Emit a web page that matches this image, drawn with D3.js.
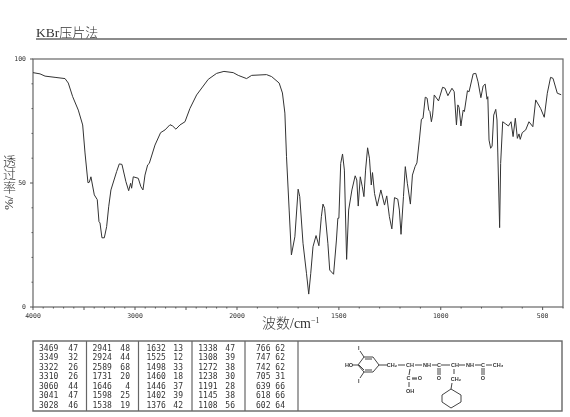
<!DOCTYPE html>
<html>
<head>
<meta charset="utf-8">
<script src="https://cdn.jsdelivr.net/npm/d3@7"></script>
<style>
  html, body { margin: 0; padding: 0; background: #fff; }
  #chart { position: relative; width: 570px; height: 417px; }
  svg { display: block; opacity: 0.999; will-change: opacity; }
  text { fill: #333; }
  .cn { font-family: "Noto Sans CJK SC", sans-serif; font-weight: 300; }
  .mono { font-family: "DejaVu Sans Mono", monospace; }
  #ytitle { position: absolute; left: 2px; top: 155px; writing-mode: vertical-rl; font-size: 13px; line-height: 14px; color: #333; opacity: 0.999; }
</style>
</head>
<body>
<div id="chart"></div>
<script>
// wavenumber (cm-1) and % transmittance
const wavenumbers = [4000,3931,3882,3784,3686,3654,3611,3556,3513,3490,3461,3448,3432,3399,3370,3353,3343,3324,3301,3278,3258,3236,3180,3154,3128,3089,3062,3043,3033,3017,2968,2942,2922,2902,2876,2860,2804,2749,2706,2657,2631,2599,2559,2510,2461,2396,2282,2200,2128,2037,
  1994,1953,1928,1855,1830,1793,1777,1765,1757,1744,1733,1716,1700,1692,1676,1659,1648,1638,1627,1612,1598,1586,1578,1570,1554,1545,1526,1512,1505,1500,1491,1482,1473,1462,1452,1436,1420,1412,1405,1395,1385,1377,1369,1359,1350,1341,1335,1325,1312,1294,1276,1265,1252,1240,1227,1211,1203,1195,1183,1174,1164,1149,1139,1126,1117,1105,1095,1087,1076,1067,1059,1053,1046,1040,1032,1011,991,979,965,945,934,923,916,910,901,890,884,869,861,841,828,817,803,792,782,773,769,763,755,748,740,730,724,720,711,706,696,681,668,655,645,634,624,616,610,600,583,567,548,534,510,492,477,461,449,428,409];
const transmittance = [94.5,94.0,93.1,92.6,92.1,90.3,84.8,79.4,73.4,62.1,50.1,50.3,52.5,45.2,43.3,34.4,33.9,27.9,27.9,32.4,40.4,47.2,54.6,57.7,57.5,50.5,46.9,49.9,47.9,52.5,51.9,48.5,47.2,53.2,57.3,57.9,65.3,70.3,71.4,73.5,73.0,71.7,73.4,74.7,80.1,85.5,91.8,94.2,95.0,94.5,
  93.4,92.1,93.4,93.7,92.9,90.3,86.3,78.2,60.6,39.1,21.0,28.3,47.5,44.5,25.7,13.6,5.2,13.6,24.3,28.8,24.7,36.4,41.5,39.8,25.7,14.9,13.2,27.0,35.8,35.8,57.9,61.7,55.2,19.2,39.1,47.2,52.9,51.2,40.7,52.5,48.5,44.5,55.2,64.2,60.0,49.2,54.2,45.8,40.7,47.2,41.1,44.8,36.4,31.5,44.1,43.5,39.1,29.3,44.5,56.6,49.9,41.5,53.2,56.6,58.1,67.3,75.7,76.1,84.6,84.2,79.4,78.8,74.7,77.4,85.5,83.1,88.6,88.2,85.2,88.2,86.8,73.4,81.5,80.5,73.0,79.4,78.8,87.2,86.8,94.0,94.2,90.8,84.4,89.1,89.9,83.8,84.8,67.3,64.0,64.9,77.4,79.7,75.4,62.1,32.0,57.9,74.7,73.8,73.0,74.7,68.7,76.1,68.0,69.8,67.6,70.3,71.4,74.7,72.7,83.5,80.1,76.5,86.2,92.6,92.2,86.2,85.6];

// tick values
const xMajor = [4000,3500,3000,2500,2000,1500,1000,500];
const xLabels = [4000,3000,2000,1500,1000,500];
const xMinor = [3900,3800,3700,3600,3400,3300,3200,3100,2900,2800,2700,2600,2400,2300,2200,2100,1900,1800,1700,1600,1400,1300,1200,1100,900,800,700,600,400];
const yTicks = [0,10,20,30,40,50,60,70,80,90,100];
const yLabels = [0,50,100];

// peak table, one pair of arrays per column
const peakWn = [
  [3469,3349,3322,3310,3060,3041,3028],
  [2941,2924,2589,1731,1646,1598,1538],
  [1632,1525,1498,1460,1446,1402,1376],
  [1338,1308,1272,1238,1191,1145,1108],
  [766,747,742,705,639,618,602]
];
const peakT = [
  [47,32,26,26,44,47,46],
  [48,44,68,20,4,25,19],
  [13,12,33,18,37,39,42],
  [47,39,38,30,28,38,56],
  [62,62,62,31,66,66,64]
];

const width = 570, height = 417;
const lineCol = '#666';

const svg = d3.select('#chart').append('svg')
  .attr('width', width)
  .attr('height', height);

// title
svg.append('text').attr('x', 36).attr('y', 37)
  .html('<tspan style="font-family:\'Liberation Serif\',serif;font-size:13.5px">KBr</tspan><tspan class="cn" style="font-size:13px">压片法</tspan>');
svg.append('line').attr('x1', 36).attr('x2', 567).attr('y1', 39).attr('y2', 39)
  .attr('stroke', lineCol).attr('stroke-width', 1.4);

// scales, axis is compressed above 2000
const x = d3.scaleLinear().domain([4000, 2000, 400]).range([33, 237, 563]);
const y = d3.scaleLinear().domain([0, 100]).range([307, 59]);

// frame
svg.append('rect')
  .attr('x', x(4000)).attr('y', y(100))
  .attr('width', x(400) - x(4000)).attr('height', y(0) - y(100))
  .attr('fill', 'none').attr('stroke', lineCol).attr('stroke-width', 1.2);

const xAxisG = svg.append('g');
xAxisG.selectAll('.minor').data(xMinor).enter().append('line')
  .attr('x1', d => x(d)).attr('x2', d => x(d))
  .attr('y1', y(0)).attr('y2', y(0) + 1.5)
  .attr('stroke', '#555');
xAxisG.selectAll('.major').data(xMajor).enter().append('line')
  .attr('x1', d => x(d)).attr('x2', d => x(d))
  .attr('y1', y(0)).attr('y2', y(0) + 3)
  .attr('stroke', '#555');
xAxisG.selectAll('text').data(xLabels).enter().append('text')
  .attr('class', 'mono')
  .attr('x', d => x(d)).attr('y', 318)
  .attr('text-anchor', 'middle')
  .style('font-size', '6.5px')
  .text(d => d);

const yAxisG = svg.append('g');
yAxisG.selectAll('line').data(yTicks).enter().append('line')
  .attr('x1', d => x(4000) - (yLabels.includes(d) ? 3 : 1.5)).attr('x2', x(4000))
  .attr('y1', d => y(d)).attr('y2', d => y(d))
  .attr('stroke', '#555');
yAxisG.selectAll('text').data(yLabels).enter().append('text')
  .attr('class', 'mono')
  .attr('x', 26).attr('y', d => y(d) + 2.3)
  .attr('text-anchor', 'end')
  .style('font-size', '6.5px')
  .text(d => d);

// axis titles, the upright part of the y title is a vertical html label
d3.select('#chart').append('div')
  .attr('id', 'ytitle')
  .attr('class', 'cn')
  .text('透过率');
svg.append('text')
  .attr('transform', 'translate(13,210) rotate(-90)')
  .style('font-family', "'Liberation Serif', serif")
  .style('font-size', '13px')
  .text('%/');

svg.append('text')
  .attr('x', 262).attr('y', 328)
  .html('<tspan class="cn" style="font-size:14px">波数</tspan><tspan style="font-family:\'Liberation Serif\',serif;font-size:14px">/cm</tspan><tspan style="font-family:\'Liberation Serif\',serif;font-size:8px" dy="-5">−1</tspan>');

// spectrum
const line = d3.line()
  .x((d, i) => x(wavenumbers[i]))
  .y((d, i) => y(transmittance[i]));

svg.append('path')
  .datum(wavenumbers)
  .attr('d', line)
  .attr('fill', 'none')
  .attr('stroke', '#333')
  .attr('stroke-width', 1)
  .attr('stroke-linejoin', 'round');

// peak table
const sepX = [33, 86.5, 138.5, 192, 245, 298, 562];
svg.append('rect')
  .attr('x', 33).attr('y', 341).attr('width', 529).attr('height', 70)
  .attr('fill', 'none').attr('stroke', lineCol).attr('stroke-width', 1.4);
svg.selectAll('.sep').data(sepX.slice(1, -1)).enter().append('line')
  .attr('x1', d => d).attr('x2', d => d).attr('y1', 341).attr('y2', 411)
  .attr('stroke', lineCol).attr('stroke-width', 1.2);

const rowY = d3.scalePoint().domain(d3.range(7)).range([350.7, 407.7]);
const wnX = [39, 92.5, 146.5, 198.3, 256];
const tX = [78, 130, 183, 235, 285];

peakWn.forEach((col, c) => {
  col.forEach((v, r) => {
    svg.append('text').attr('class', 'mono')
      .attr('x', wnX[c]).attr('y', rowY(r))
      .style('font-size', '8px').text(v);
    svg.append('text').attr('class', 'mono')
      .attr('x', tX[c]).attr('y', rowY(r))
      .attr('text-anchor', 'end')
      .style('font-size', '8px').text(peakT[c][r]);
  });
});

// structure drawing
const bonds = [
  [364,357,373,357],[373,357,379,365],[379,365,373,372],[373,372,364,372],[364,372,358,365],[358,365,364,357],
  [365,359,372,359],[365,370,372,370],[359,365,364,370],
  [360,351,364,357],[360,378,364,372],[352,365,358,365],
  [379,365,387,365],[398,365,405,365],[415,365,422,365],[432,365,437,365],[441,365,450,365],[459,365,465,365],[475,365,481,365],[486,365,492,365],
  [410,369,409,375],[412,378,417,378],[412,379,417,379],[409,382,409,387],
  [438,368,438,375],[440,368,440,375],
  [454,369,454,374],[482,368,482,375],[484,368,484,375],
  [452,383,451,389],
  [451,389,461,395],[461,395,461,402],[461,402,451,408],[451,408,442,402],[442,402,442,395],[442,395,451,389]
];
const atoms = [
  ['I',358.7,348],['I',358.7,381],['HO',349,365],['CH₂',392,365],['CH',410,365],['NH',427,365],['C',439,365],['CH',455,365],['NH',470,365],['C',483,365],['CH₃',498,365],
  ['C',408.5,378],['O',420,378],['OH',410,391],['O',439,378],['O',483,378],['CH₂',456,379]
];
svg.selectAll('.bond').data(bonds).enter().append('line')
  .attr('x1', d => d[0]).attr('y1', d => d[1]).attr('x2', d => d[2]).attr('y2', d => d[3])
  .attr('stroke', '#444').attr('stroke-width', 1);
svg.selectAll('.atom').data(atoms).enter().append('text')
  .attr('x', d => d[1]).attr('y', d => d[2] + 2)
  .attr('text-anchor', 'middle')
  .style('font-family', 'Liberation Sans, sans-serif')
  .style('font-size', '5.5px')
  .style('font-weight', 'bold')
  .text(d => d[0]);
</script>
</body>
</html>
